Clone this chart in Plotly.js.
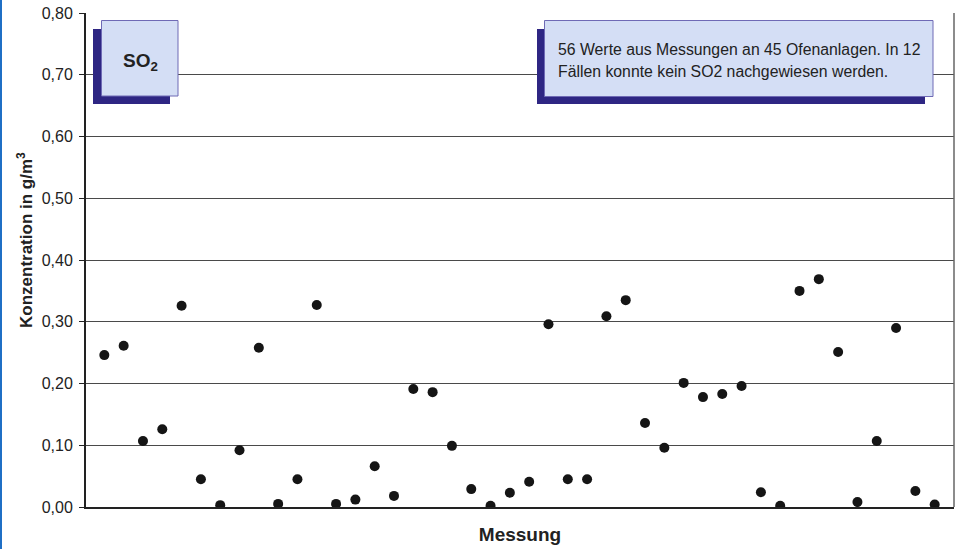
<!DOCTYPE html>
<html>
<head>
<meta charset="utf-8">
<script src="https://cdn.plot.ly/plotly-3.0.1.min.js"></script>
<style>
  html, body { margin: 0; padding: 0; background: #fff; }
  #chart { width: 959px; height: 549px; }
  #edge { position: absolute; left: 0; top: 0; width: 2px; height: 549px; background: #1f6fc5; }
</style>
</head>
<body>
<div id="chart"></div>
<div id="edge"></div>
<script>
// Messung index (1..44) and SO2 concentration in g/m3
const messung = [1,2,3,4,5,6,7,8,9,10,11,12,13,14,15,16,17,18,19,20,21,22,
                 23,24,25,26,27,28,29,30,31,32,33,34,35,36,37,38,39,40,41,42,43,44];
const konzentration = [0.246,0.261,0.107,0.126,0.326,0.045,0.003,0.092,0.258,0.005,0.045,
                       0.327,0.005,0.012,0.066,0.018,0.191,0.186,0.099,0.029,0.002,0.023,
                       0.041,0.296,0.045,0.045,0.309,0.335,0.136,0.096,0.201,0.178,0.183,
                       0.196,0.024,0.002,0.350,0.369,0.251,0.008,0.107,0.290,0.026,0.004];
const yTicks = [0,0.1,0.2,0.3,0.4,0.5,0.6,0.7,0.8];
const boxLabel = "SO<sub>2</sub>";
const yTitle = "Konzentration in g/m<sup>3</sup>";
const xTitle = "Messung";
const noteLine1 = "56 Werte aus Messungen an 45 Ofenanlagen. In 12";
const noteLine2 = "Fällen konnte kein SO2 nachgewiesen werden.";

const L = 86, T = 13, R = 954, B = 507;
const px = x => (x - L) / (R - L);
const py = y => (B - y) / (B - T);

const trace = {
  x: messung, y: konzentration, type: 'scatter', mode: 'markers',
  marker: { color: '#151515', size: 10 }, hoverinfo: 'skip', showlegend: false
};

function rect(x0, y0, x1, y1, fill, line) {
  return { type: 'rect', xref: 'paper', yref: 'paper', x0: px(x0), x1: px(x1), y0: py(y1), y1: py(y0),
           fillcolor: fill, line: line ? { color: line, width: 1 } : { width: 0 }, layer: 'above' };
}

const layout = {
  width: 959, height: 549,
  margin: { l: L, r: 959 - R, t: T, b: 549 - B },
  paper_bgcolor: '#fff', plot_bgcolor: '#fff',
  separators: ',.',
  font: { family: 'Liberation Sans, Arial, sans-serif', color: '#222' },
  xaxis: {
    range: [0.05, 45], showgrid: false, zeroline: false, showticklabels: false, ticks: '',
    showline: true, linecolor: '#222', linewidth: 2,
    title: { text: '<b>' + xTitle + '</b>', font: { size: 19, color: '#222' }, standoff: 20 }
  },
  yaxis: {
    range: [0, 0.8], tickvals: yTicks, tickformat: '.2f', ticks: 'outside', ticklen: 5,
    tickcolor: '#222', tickfont: { size: 16, color: '#222' }, ticklabelstandoff: 3,
    showgrid: true, gridcolor: '#4a4a4a', gridwidth: 1, zeroline: false,
    showline: true, linecolor: '#222', linewidth: 2
  },
  shapes: [
    { type: 'line', xref: 'paper', yref: 'paper', x0: 1, x1: 1, y0: 0, y1: 1, line: { color: '#666', width: 1.5 } },
    rect(93, 29, 170, 104, '#2e2683'),
    rect(101.5, 20.5, 178, 96, '#d4def5', '#6f6ab5'),
    rect(537, 29, 925, 104, '#2e2683'),
    rect(544.5, 20.5, 933, 96.5, '#d4def5', '#6f6ab5')
  ],
  annotations: [
    { xref: 'paper', yref: 'paper', x: px(25), y: py(240), text: '<b>' + yTitle + '</b>', showarrow: false,
      textangle: -90, xanchor: 'center', yanchor: 'middle', font: { size: 17, color: '#222' } },
    { xref: 'paper', yref: 'paper', x: px(140), y: py(62), text: '<b>' + boxLabel + '</b>', showarrow: false,
      xanchor: 'center', yanchor: 'middle', font: { size: 19, color: '#222' } },
    { xref: 'paper', yref: 'paper', x: px(556), y: py(50), text: noteLine1, showarrow: false,
      xanchor: 'left', yanchor: 'middle', font: { size: 15.8, color: '#222' } },
    { xref: 'paper', yref: 'paper', x: px(556), y: py(72), text: noteLine2, showarrow: false,
      xanchor: 'left', yanchor: 'middle', font: { size: 15.8, color: '#222' } }
  ]
};

Plotly.newPlot('chart', [trace], layout, { staticPlot: true, displayModeBar: false });
</script>
</body>
</html>
